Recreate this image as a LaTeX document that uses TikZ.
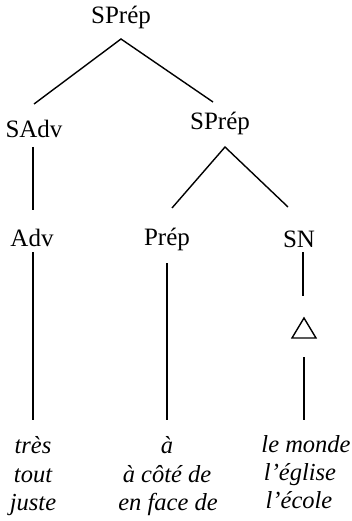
\documentclass[tikz,border=0pt]{standalone}
\usepackage{fontspec}
\setmainfont{Liberation Serif}
\begin{document}
\begin{tikzpicture}[x=1pt,y=-1pt,
  lab/.style={inner sep=0pt,anchor=base,font=\fontsize{25}{28}\selectfont},
  word/.style={inner sep=0pt,anchor=base,font=\fontsize{24.5}{28}\selectfont\itshape},
  edge/.style={line width=1.4pt,line cap=butt}]
\useasboundingbox (0,0) rectangle (351,521);
% labels
\node[lab] (top) at (121,24) {SPrép};
\node[lab] (sadv) at (34,138) {SAdv};
\node[lab] (sprep) at (220,130) {SPrép};
\node[lab] (adv) at (32,246) {Adv};
\node[lab] (prep) at (167,245) {Prép};
\node[lab] (sn) at (299,247) {SN};
% words
\node[word] (w11) at (33,453) {très};
\node[word] (w12) at (33,482) {tout};
\node[word] (w13) at (33,510) {juste};
\node[word] (w21) at (167,453) {à};
\node[word] (w22) at (167,482) {à côté de};
\node[word] (w23) at (168,510) {en face de};
\node[word] (w31) at (306,452) {le monde};
\node[word] (w32) at (300,480) {l’église};
\node[word] (w33) at (299,508) {l’école};
% connector ends
\coordinate (topb) at (121,39);
\coordinate (sadvt) at (34,104);
\coordinate (sprept) at (213,102);
\coordinate (sadvb) at (33,147);
\coordinate (advt) at (33,210);
\coordinate (sprepb) at (225,147);
\coordinate (prept) at (172,208);
\coordinate (snt) at (288,207);
\coordinate (advb) at (33,252);
\coordinate (w1t) at (33,420);
\coordinate (prepb) at (167,263);
\coordinate (w2t) at (167,420);
\coordinate (snb) at (303,252);
\coordinate (trit) at (303,296);
\coordinate (tria) at (304,318);
\coordinate (tril) at (292,338);
\coordinate (trir) at (316,338);
\coordinate (trib) at (304,357);
\coordinate (w3t) at (304,420);
% connectors
\draw[edge] (sadvt) -- (topb) -- (sprept);
\draw[edge] (sadvb) -- (advt);
\draw[edge] (prept) -- (sprepb) -- (snt);
\draw[edge] (advb) -- (w1t);
\draw[edge] (prepb) -- (w2t);
\draw[edge] (snb) -- (trit);
\draw[edge,line join=miter] (tria) -- (trir) -- (tril) -- cycle;
\draw[edge] (trib) -- (w3t);
\end{tikzpicture}
\end{document}
